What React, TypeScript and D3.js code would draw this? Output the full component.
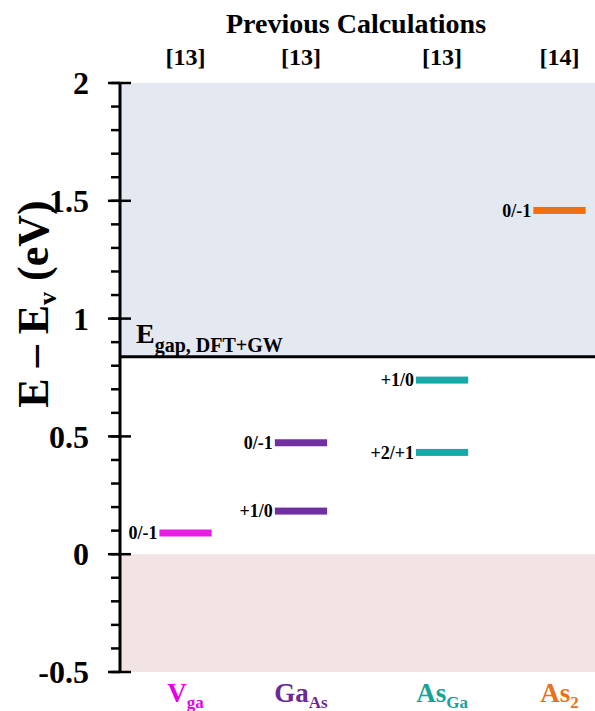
import React from 'react';
import * as d3 from 'd3';

// defects shown in the figure
const defectMain = ['V', 'Ga', 'As', 'As'];
const defectSub = ['ga', 'As', 'Ga', '2'];
const defectRef = ['[13]', '[13]', '[13]', '[14]'];
const defectPos = [0.552, 1.524, 2.712, 3.701];
const defectColor = ['#e81ee2', '#7030a0', '#17a9a8', '#ee7014'];
const labelColor = ['#e600e6', '#6a2a98', '#1a9f9a', '#e8711a'];

// transition levels
const levelDefect = [0, 1, 1, 2, 2, 3];
const levelValue = [0.09, 0.473, 0.183, 0.739, 0.432, 1.459];
const levelLabel = ['0/-1', '0/-1', '+1/0', '+1/0', '+2/+1', '0/-1'];

const gapValue = 0.838;
const majorTicks = [-0.5, 0, 0.5, 1, 1.5, 2];
const minorTicks = d3.range(-5, 21).map((d) => d / 10);

const W = 595;
const H = 711;
const left = 120;
const top = 83;
const bottom = 672;

const serif = '"Liberation Serif", "Times New Roman", serif';

export default function App() {
  const x = d3.scaleLinear().domain([0, 4]).range([left, W]);
  const y = d3.scaleLinear().domain([-0.5, 2]).range([bottom, top]);
  const barW = x(0.44) - x(0);
  const fmt = (d: number) => (d === 0 ? '0' : String(d));

  return (
    <svg width={W} height={H} style={{ position: 'absolute', left: 0, top: 0 }} fontFamily={serif} fontWeight="bold">
      <rect x={left} y={y(2)} width={W - left} height={y(gapValue) - y(2)} fill="#e4e8f0" />
      <rect x={left} y={y(0)} width={W - left} height={y(-0.5) - y(0)} fill="#f2e4e4" />
      <line x1={left} x2={W} y1={y(gapValue)} y2={y(gapValue)} stroke="#000" strokeWidth={3} />

      <text x={left + 16} y={y(gapValue) - 14} fontSize={28}>
        E<tspan fontSize={20} dy={9}>gap, DFT+GW</tspan>
      </text>

      {minorTicks.map((t) => (
        <line key={'m' + t} x1={111} x2={left} y1={y(t)} y2={y(t)} stroke="#000" strokeWidth={2.5} />
      ))}
      {majorTicks.map((t) => (
        <g key={'M' + t}>
          <line x1={108} x2={131} y1={y(t)} y2={y(t)} stroke="#000" strokeWidth={2.5} />
          <text x={89} y={y(t)} dy="0.35em" textAnchor="end" fontSize={32}>
            {fmt(t)}
          </text>
        </g>
      ))}
      <line x1={left} x2={left} y1={y(2) - 1} y2={y(-0.5) + 1} stroke="#000" strokeWidth={3} />

      <text transform={`translate(48,304) rotate(-90)`} textAnchor="middle" fontSize={44}>
        E – E<tspan fontSize={26} dy={8}>v</tspan>
        <tspan dy={-8}> (eV)</tspan>
      </text>

      <text x={356} y={33} textAnchor="middle" fontSize={28}>
        Previous Calculations
      </text>

      {defectMain.map((m, i) => (
        <g key={'d' + i}>
          <text x={x(defectPos[i])} y={65} textAnchor="middle" fontSize={24}>
            {defectRef[i]}
          </text>
          <text x={x(defectPos[i])} y={702} textAnchor="middle" fontSize={27} fill={labelColor[i]}>
            {m}
            <tspan fontSize={17} dy={6}>{defectSub[i]}</tspan>
          </text>
        </g>
      ))}

      {levelValue.map((v, i) => {
        const cx = x(defectPos[levelDefect[i]]);
        return (
          <g key={'l' + i}>
            <rect x={cx - barW / 2} y={y(v) - 3.5} width={barW} height={7} fill={defectColor[levelDefect[i]]} />
            <text x={cx - barW / 2 - 2} y={y(v)} dy="0.35em" textAnchor="end" fontSize={18}>
              {levelLabel[i]}
            </text>
          </g>
        );
      })}
    </svg>
  );
}
